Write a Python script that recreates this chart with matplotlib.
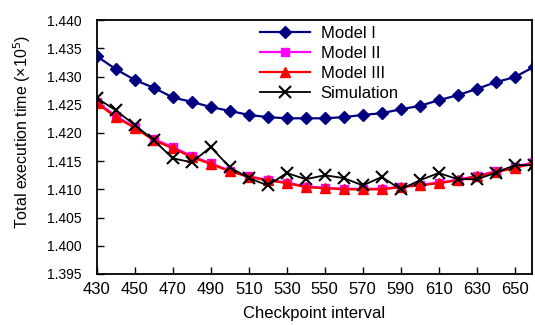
import numpy as np
import matplotlib
matplotlib.use('Agg')
import matplotlib.pyplot as plt

plt.rcParams['font.family'] = ['Liberation Sans', 'DejaVu Sans']

# checkpoint interval
x = np.arange(430, 661, 10)

model1 = [1.4336, 1.4313, 1.4294, 1.4280, 1.4263, 1.4255, 1.4246, 1.4239,
          1.4232, 1.4228, 1.4226, 1.4226, 1.4226, 1.4228, 1.4232, 1.4235,
          1.4242, 1.4248, 1.4258, 1.4267, 1.4278, 1.4290, 1.4299, 1.4317]
model2 = [1.4255, 1.4230, 1.4210, 1.4189, 1.4175, 1.4159, 1.4146, 1.4133,
          1.4123, 1.4117, 1.4112, 1.4105, 1.4103, 1.4101, 1.4101, 1.4101,
          1.4105, 1.4108, 1.4112, 1.4117, 1.4124, 1.4132, 1.4140, 1.4148]
model3 = [1.4253, 1.4228, 1.4209, 1.4187, 1.4173, 1.4157, 1.4145, 1.4132,
          1.4122, 1.4116, 1.4111, 1.4104, 1.4102, 1.4100, 1.4100, 1.4100,
          1.4104, 1.4107, 1.4111, 1.4116, 1.4123, 1.4130, 1.4138, 1.4146]
simulation = [1.4262, 1.4240, 1.4214, 1.4187, 1.4155, 1.4148, 1.4175, 1.4139,
              1.4120, 1.4107, 1.4129, 1.4118, 1.4125, 1.4120, 1.4107, 1.4122,
              1.4100, 1.4116, 1.4129, 1.4118, 1.4118, 1.4129, 1.4143, 1.4143]

xticks = np.arange(430, 651, 20)
yticks = np.arange(1.395, 1.4401, 0.005)

fig = plt.figure(figsize=(5.35, 3.25), dpi=100)
ax = fig.add_axes([0.181, 0.157, 0.813, 0.781])

ax.plot(x, model1, color='#000080', marker='D', markersize=6, lw=1.6, label='Model I')
ax.plot(x, model2, color='#FF00FF', marker='s', markersize=5.5, lw=1.6, label='Model II')
ax.plot(x, model3, color='#FF0000', marker='^', markersize=7, lw=1.6, label='Model III')
ax.plot(x, simulation, color='black', marker='x', markersize=9, mew=1.5, lw=1.3,
        label='Simulation')

ax.set_xlim(430, 659)
ax.set_ylim(1.395, 1.440)
ax.set_xticks(xticks)
ax.set_yticks(yticks)
ax.set_yticklabels(['%.3f' % v for v in yticks])
ax.tick_params(direction='in', length=5, width=1, top=False, right=False)
ax.tick_params(axis='x', labelsize=12, pad=6)
ax.tick_params(axis='y', labelsize=10, pad=11)
for s in ax.spines.values():
    s.set_linewidth(1.3)

ax.set_xlabel('Checkpoint interval', fontsize=12, labelpad=6)
ax.set_ylabel('Total execution time (×10$^{5}$)', fontsize=11.5)
ax.yaxis.set_label_coords(-0.147, 0.561)

ax.legend(loc='upper left', bbox_to_anchor=(0.375, 0.978), frameon=False,
          fontsize=12, borderpad=0, borderaxespad=0, handlelength=3.0,
          handletextpad=0.65, labelspacing=0.3)

fig.savefig('out.png', dpi=100)
